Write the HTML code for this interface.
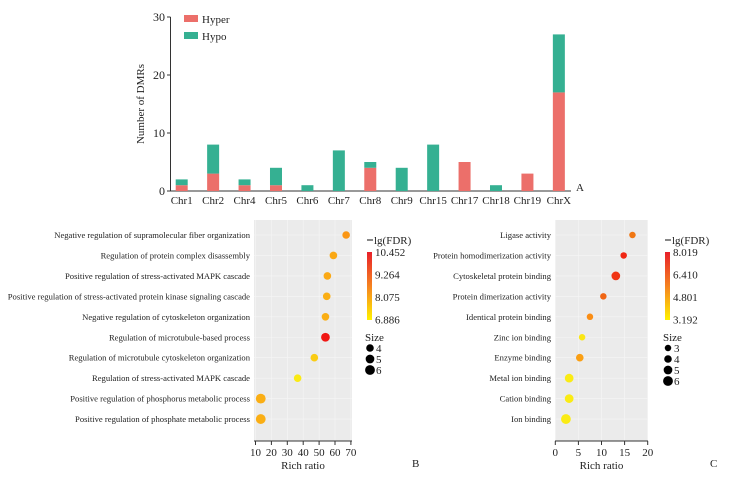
<!DOCTYPE html>
<html><head><meta charset="utf-8"><style>
body{margin:0;background:#fff}
svg text{font-family:"Liberation Serif",serif;fill:#222}
</style></head><body>
<svg id="s" width="743" height="476" viewBox="0 0 743 476"></svg>
<script>
const chrs=["Chr1","Chr2","Chr4","Chr5","Chr6","Chr7","Chr8","Chr9","Chr15","Chr17","Chr18","Chr19","ChrX"];
const hyper=[1,3,1,1,0,0,4,0,0,5,0,3,17];
const hypo=[1,5,1,3,1,7,1,4,8,0,1,0,10];
const yTicks=[0,10,20,30];
const bTerms=["Negative regulation of supramolecular fiber organization","Regulation of protein complex disassembly","Positive regulation of stress-activated MAPK cascade","Positive regulation of stress-activated protein kinase signaling cascade","Negative regulation of cytoskeleton organization","Regulation of microtubule-based process","Regulation of microtubule cytoskeleton organization","Regulation of stress-activated MAPK cascade","Positive regulation of phosphorus metabolic process","Positive regulation of phosphate metabolic process"];
const bRatio=[67,59,55.2,54.8,54,54,47,36.5,13.3,13.3];
const bFdr=[8.3,8.0,8.0,7.9,7.9,10.4,7.4,6.9,7.9,7.9];
const bSize=[4,4,4,4,4,5,4,4,6,6];
const bTicks=[10,20,30,40,50,60,70];
const bLeg=["10.452","9.264","8.075","6.886"];
const cTerms=["Ligase activity","Protein homodimerization activity","Cytoskeletal protein binding","Protein dimerization activity","Identical protein binding","Zinc ion binding","Enzyme binding","Metal ion binding","Cation binding","Ion binding"];
const cRatio=[16.7,14.8,13.1,10.4,7.5,5.8,5.3,3,3,2.3];
const cFdr=[5.8,7.6,7.3,6.2,5.3,3.3,4.9,3.2,3.2,3.2];
const cSize=[3,3,5,3,3,3,4,5,5,6];
const cTicks=[0,5,10,15,20];
const cLeg=["8.019","6.410","4.801","3.192"];
const NS="http://www.w3.org/2000/svg";const S=document.getElementById('s');
function el(t,a,txt,p){const e=document.createElementNS(NS,t);for(const k in a)e.setAttribute(k,a[k]);if(txt!=null)e.textContent=txt;(p||S).appendChild(e);return e;}
const y0=191,ypx=5.8,xb=i=>181.7+i*31.43;const Y=v=>y0-v*ypx;
let e=el('line',{x1:170.5,y1:17,x2:170.5,y2:y0,stroke:'#333'});

e=el('line',{x1:170.5,y1:y0,x2:571,y2:y0,stroke:'#333'});

yTicks.forEach(t=>{el('line',{x1:167,y1:Y(t),x2:170.5,y2:Y(t),stroke:'#333'});
e=el('text',{x:165,y:Y(t)+4,'text-anchor':'end','font-size':12},t);
});
e=el('text',{transform:'translate(144,104) rotate(-90)','text-anchor':'middle','font-size':11},'Number of DMRs');

chrs.forEach((c,i)=>{const x=xb(i)-6;
if(hyper[i]>0){e=el('rect',{x:x,y:Y(hyper[i]),width:12,height:hyper[i]*ypx,fill:'#ec6f6a'});
}
if(hypo[i]>0){e=el('rect',{x:x,y:Y(hyper[i]+hypo[i]),width:12,height:hypo[i]*ypx,fill:'#35b092'});
}
e=el('text',{x:xb(i),y:204,'text-anchor':'middle','font-size':11},c);
});
e=el('rect',{x:184,y:15,width:14,height:7,fill:'#ec6f6a'});
e=el('text',{x:202,y:23,'font-size':11},'Hyper');
e=el('rect',{x:184,y:32,width:14,height:7,fill:'#35b092'});
e=el('text',{x:202,y:40,'font-size':11},'Hypo');
e=el('text',{x:576,y:191,'font-size':11},'A');
function col(v,mn,mx){const t=Math.max(0,Math.min(1,(v-mn)/(mx-mn)));const g=Math.round(235-t*215);return 'rgb('+(t<0.5?250:240)+','+g+',20)';}
const rad=s=>1.6+s*0.55;
function panel(o){const X=v=>o.x0+(v-o.t0)*o.k;const rowY=i=>235+i*20.45;
e=el('rect',{x:o.bx,y:220,width:o.bw,height:221,fill:'#ebebeb'});
o.ticks.forEach(t=>{el('line',{x1:X(t),y1:220,x2:X(t),y2:441,stroke:'#f6f6f6','stroke-width':0.6});
el('line',{x1:X(t),y1:441,x2:X(t),y2:445,stroke:'#333'});
e=el('text',{x:X(t),y:456,'text-anchor':'middle','font-size':11},t);});
el('line',{x1:o.bx,y1:441,x2:o.bx+o.bw,y2:441,stroke:'#333'});
o.terms.forEach((t,i)=>{el('line',{x1:o.bx,y1:rowY(i),x2:o.bx+o.bw,y2:rowY(i),stroke:'#f6f6f6','stroke-width':0.6});
e=el('text',{x:o.bx-4,y:rowY(i)+3,'text-anchor':'end','font-size':8.6,fill:'#333'},t);
e=el('circle',{cx:X(o.ratio[i]),cy:rowY(i),r:rad(o.size[i]),fill:col(o.fdr[i],o.mn,o.mx)});
});
e=el('text',{x:o.bx+o.bw/2,y:469,'text-anchor':'middle','font-size':11},'Rich ratio');
e=el('text',{x:o.lx,y:467,'font-size':11},o.id.toUpperCase());
const cx=o.cx;el('line',{x1:cx,y1:240,x2:cx+6,y2:240,stroke:'#111'});
e=el('text',{x:cx+7,y:244,'font-size':11},'lg(FDR)');
const gid='g'+o.id;const d=el('defs',{});const lg=el('linearGradient',{id:gid,x1:0,y1:0,x2:0,y2:1},null,d);
el('stop',{offset:0,'stop-color':'#e8202a'},null,lg);el('stop',{offset:0.5,'stop-color':'#f58220'},null,lg);el('stop',{offset:1,'stop-color':'#fff200'},null,lg);
e=el('rect',{x:cx,y:252,width:5,height:68,fill:'url(#'+gid+')'});
o.leg.forEach((l,i)=>{e=el('text',{x:cx+8,y:256+i*22.5,'font-size':11},l);});
e=el('text',{x:cx-2,y:341,'font-size':11},'Size');
o.sl.forEach((s,i)=>{el('circle',{cx:cx+3,cy:348+i*11,r:rad(s),fill:'#000'});
e=el('text',{x:cx+9,y:352+i*11,'font-size':11},s);});}
panel({id:'b',bx:254,bw:98,x0:255.5,t0:10,k:1.59,ticks:bTicks,terms:bTerms,ratio:bRatio,fdr:bFdr,size:bSize,mn:6.886,mx:10.452,leg:bLeg,cx:367,lx:412,sl:[4,5,6]});
panel({id:'c',bx:555,bw:93,x0:555.3,t0:0,k:4.62,ticks:cTicks,terms:cTerms,ratio:cRatio,fdr:cFdr,size:cSize,mn:3.192,mx:8.019,leg:cLeg,cx:665,lx:710,sl:[3,4,5,6]});
</script>
</body></html>
